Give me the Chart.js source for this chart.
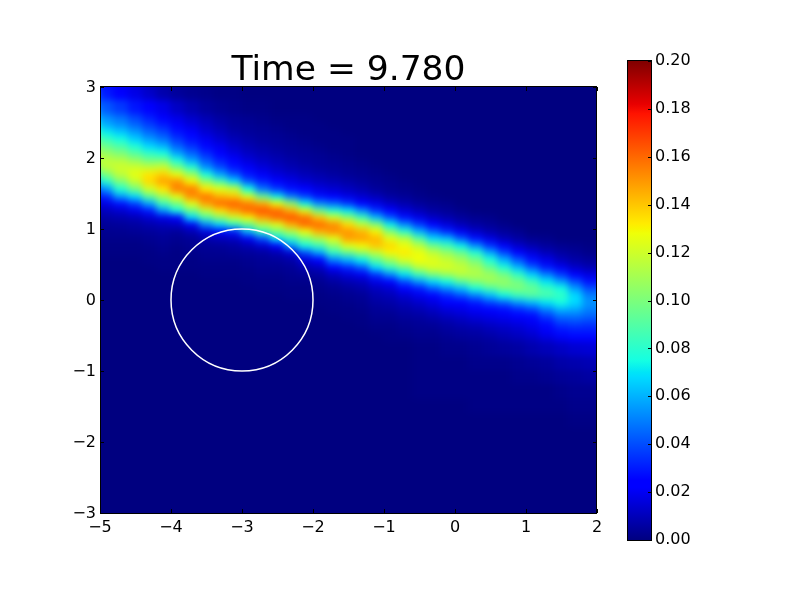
<!DOCTYPE html>
<html>
<head>
<meta charset="utf-8">
<title>Time = 9.780</title>
<script src="https://cdn.jsdelivr.net/npm/chart.js@4/dist/chart.umd.js"></script>
<style>
  html, body { margin: 0; background: #fff; }
  canvas { position: absolute; left: 0; top: 0; }
</style>
</head>
<body>
<canvas id="mapa" width="800" height="600"></canvas>
<canvas id="barra" width="800" height="600"></canvas>
<script>
const titulo = "Time = 9.780";
const xTicks = [-5, -4, -3, -2, -1, 0, 1, 2];
const yTicks = [-3, -2, -1, 0, 1, 2, 3];
const barTicks = [0, 0.02, 0.04, 0.06, 0.08, 0.1, 0.12, 0.14, 0.16, 0.18, 0.2];
const circleCenter = [-3, 0];
const circleRadius = 1;

// centros das colunas e limites das linhas (mais finas na faixa)
const cellX = [-4.9, -4.7, -4.5, -4.3, -4.1, -3.9, -3.7, -3.5, -3.3, -3.1, -2.9, -2.7, -2.5, -2.3, -2.1, -1.9, -1.7, -1.5,
  -1.3, -1.1, -0.9, -0.7, -0.5, -0.3, -0.1, 0.1, 0.3, 0.5, 0.7, 0.9, 1.1, 1.3, 1.5, 1.7, 1.9];
const rowEdges = [3, 2.8, 2.6, 2.5, 2.4, 2.3, 2.2, 2.1, 2, 1.9, 1.8, 1.7, 1.6, 1.5, 1.4, 1.3, 1.2, 1.1, 1, 0.9, 0.8, 0.7, 0.6,
  0.5, 0.4, 0.3, 0.2, 0.1, 0, -0.1, -0.2, -0.3, -0.4, -0.5, -0.6, -0.8, -1, -1.2, -1.4, -1.6, -1.8, -2, -2.2, -2.4, -2.6, -2.8, -3];

// valores, em milesimos, por coluna de cima para baixo; o que falta no fim e zero
const density = [
  [30, 42, 53, 60, 72, 84, 96, 107, 116, 116, 100, 80, 55, 33, 18, 11, 7, 4, 3, 2, 1, 1],
  [25, 36, 47, 54, 65, 76, 89, 101, 114, 120, 116, 101, 79, 55, 28, 14, 8, 5, 3, 2, 1, 1],
  [18, 29, 39, 46, 56, 66, 78, 91, 107, 120, 126, 118, 98, 68, 38, 19, 10, 6, 4, 2, 1, 1],
  [13, 23, 31, 38, 46, 56, 68, 82, 98, 118, 133, 136, 120, 92, 58, 30, 14, 8, 5, 3, 2, 1, 1],
  [8, 18, 25, 31, 39, 48, 61, 76, 98, 120, 138, 148, 133, 110, 85, 55, 18, 10, 6, 4, 3, 2, 1, 1],
  [5, 12, 18, 23, 29, 36, 45, 58, 77, 100, 127, 150, 155, 126, 100, 75, 25, 12, 5, 3, 2, 1, 1, 1],
  [3, 8, 13, 17, 22, 28, 35, 45, 58, 80, 108, 130, 155, 152, 125, 97, 68, 20, 9, 4, 3, 2, 1, 1],
  [2, 5, 9, 12, 15, 20, 26, 33, 42, 54, 76, 106, 132, 158, 148, 118, 88, 52, 16, 8, 4, 3, 2, 1, 1],
  [1, 3, 6, 8, 11, 14, 19, 24, 31, 40, 58, 88, 125, 145, 160, 135, 105, 68, 25, 10, 5, 3, 2, 1, 1],
  [1, 2, 4, 5, 7, 10, 13, 17, 22, 29, 42, 68, 118, 140, 162, 148, 120, 80, 30, 12, 6, 4, 2, 1, 1],
  [0, 1, 3, 4, 5, 7, 9, 12, 16, 21, 29, 42, 75, 125, 155, 160, 130, 95, 60, 20, 9, 5, 3, 2, 1, 1],
  [0, 1, 2, 3, 4, 5, 7, 9, 12, 16, 21, 31, 48, 95, 145, 165, 148, 115, 82, 40, 14, 6, 4, 3, 2, 1, 1],
  [0, 0, 1, 2, 3, 4, 5, 7, 9, 12, 16, 23, 36, 72, 128, 160, 160, 125, 98, 70, 25, 9, 5, 3, 2, 1, 1],
  [0, 0, 1, 1, 2, 3, 4, 5, 7, 9, 13, 18, 28, 50, 105, 145, 165, 145, 112, 82, 55, 15, 7, 4, 3, 2, 1, 1],
  [0, 0, 1, 1, 1, 2, 3, 4, 5, 7, 10, 14, 22, 38, 72, 125, 158, 160, 128, 100, 75, 40, 16, 8, 4, 2, 1, 1],
  [0, 0, 0, 1, 1, 1, 2, 3, 4, 5, 8, 11, 17, 28, 52, 95, 140, 160, 145, 112, 85, 58, 25, 11, 6, 3, 2, 1, 1],
  [0, 0, 0, 0, 1, 1, 1, 2, 3, 4, 6, 9, 14, 24, 45, 78, 122, 152, 152, 125, 105, 82, 50, 24, 11, 6, 3, 2, 1, 1],
  [0, 0, 0, 0, 0, 1, 1, 1, 2, 3, 4, 7, 11, 18, 35, 70, 105, 135, 150, 148, 125, 95, 60, 32, 16, 9, 5, 3, 2, 1, 1],
  [0, 0, 0, 0, 0, 0, 0, 0, 1, 2, 3, 5, 8, 14, 25, 52, 85, 118, 143, 148, 130, 108, 72, 42, 20, 11, 7, 4, 3, 2, 1, 1],
  [0, 0, 0, 0, 0, 0, 0, 0, 0, 1, 2, 3, 5, 10, 18, 34, 62, 102, 130, 143, 140, 118, 92, 68, 35, 18, 11, 8, 6, 4, 3, 2, 1],
  [0, 0, 0, 0, 0, 0, 0, 0, 0, 0, 1, 2, 3, 6, 12, 22, 42, 72, 102, 125, 136, 130, 108, 82, 52, 25, 14, 10, 7, 5, 3, 2, 1, 1],
  [0, 0, 0, 0, 0, 0, 0, 0, 0, 0, 0, 1, 2, 4, 8, 15, 28, 52, 80, 115, 127, 132, 122, 96, 70, 40, 22, 14, 10, 7, 5, 3, 2, 1],
  [0, 0, 0, 0, 0, 0, 0, 0, 0, 0, 0, 0, 1, 2, 5, 10, 18, 36, 60, 90, 115, 127, 128, 115, 85, 55, 30, 19, 13, 9, 6, 4, 3, 2, 1, 1, 1, 1],
  [0, 0, 0, 0, 0, 0, 0, 0, 0, 0, 0, 0, 0, 1, 3, 6, 12, 24, 44, 68, 96, 116, 124, 122, 100, 68, 42, 24, 17, 12, 8, 5, 3, 2, 1, 1, 1, 1],
  [0, 0, 0, 0, 0, 0, 0, 0, 0, 0, 0, 0, 0, 0, 2, 4, 8, 16, 32, 62, 85, 106, 118, 122, 108, 75, 52, 32, 22, 16, 11, 7, 5, 3, 2, 1, 1, 1],
  [0, 0, 0, 0, 0, 0, 0, 0, 0, 0, 0, 0, 0, 0, 0, 2, 5, 10, 20, 42, 72, 95, 110, 118, 115, 92, 62, 40, 25, 18, 13, 9, 6, 4, 2, 1, 1, 1],
  [0, 0, 0, 0, 0, 0, 0, 0, 0, 0, 0, 0, 0, 0, 0, 0, 3, 6, 13, 28, 52, 78, 98, 110, 113, 102, 76, 50, 30, 21, 16, 11, 7, 5, 3, 2, 1, 1, 1],
  [0, 0, 0, 0, 0, 0, 0, 0, 0, 0, 0, 0, 0, 0, 0, 0, 2, 4, 8, 17, 34, 58, 78, 95, 108, 108, 88, 62, 38, 24, 18, 13, 9, 6, 4, 2, 1, 1, 1],
  [0, 0, 0, 0, 0, 0, 0, 0, 0, 0, 0, 0, 0, 0, 0, 0, 0, 2, 5, 10, 21, 38, 60, 78, 98, 106, 98, 74, 44, 27, 20, 15, 11, 8, 5, 2, 1, 1, 1],
  [0, 0, 0, 0, 0, 0, 0, 0, 0, 0, 0, 0, 0, 0, 0, 0, 0, 0, 3, 6, 13, 25, 42, 62, 82, 98, 100, 84, 55, 32, 22, 17, 13, 10, 6, 3, 2, 1, 1],
  [0, 0, 0, 0, 0, 0, 0, 0, 0, 0, 0, 0, 0, 0, 0, 0, 0, 0, 0, 3, 8, 16, 28, 44, 66, 84, 95, 90, 62, 38, 26, 20, 16, 12, 8, 4, 2, 1, 1],
  [0, 0, 0, 0, 0, 0, 0, 0, 0, 0, 0, 0, 0, 0, 0, 0, 0, 0, 0, 2, 5, 10, 18, 30, 50, 70, 84, 88, 70, 50, 36, 27, 21, 16, 10, 5, 3, 1, 1],
  [0, 0, 0, 0, 0, 0, 0, 0, 0, 0, 0, 0, 0, 0, 0, 0, 0, 0, 0, 0, 3, 6, 11, 20, 36, 56, 75, 82, 75, 60, 46, 36, 28, 20, 12, 7, 4, 2, 1],
  [0, 0, 0, 0, 0, 0, 0, 0, 0, 0, 0, 0, 0, 0, 0, 0, 0, 0, 0, 0, 2, 4, 7, 13, 24, 40, 56, 68, 68, 58, 47, 38, 30, 22, 14, 8, 5, 3, 2, 1],
  [0, 0, 0, 0, 0, 0, 0, 0, 0, 0, 0, 0, 0, 0, 0, 0, 0, 0, 0, 0, 1, 2, 5, 9, 17, 28, 40, 50, 54, 50, 44, 36, 30, 23, 15, 9, 6, 3, 2, 1]
];

// mapa de cores jet
const jetR = [[0, 0], [0.35, 0], [0.66, 1], [0.89, 1], [1, 0.5]];
const jetG = [[0, 0], [0.125, 0], [0.375, 1], [0.64, 1], [0.91, 0], [1, 0]];
const jetB = [[0, 0.5], [0.11, 1], [0.34, 1], [0.65, 0], [1, 0]];
const jetStops = [0, 0.11, 0.125, 0.34, 0.35, 0.375, 0.64, 0.65, 0.66, 0.89, 0.91, 1];

const canal = (tab, t) => {
  for (let i = 1; i < tab.length; i++) {
    if (t <= tab[i][0]) {
      const f = (t - tab[i - 1][0]) / (tab[i][0] - tab[i - 1][0]);
      return tab[i - 1][1] + f * (tab[i][1] - tab[i - 1][1]);
    }
  }
  return tab[tab.length - 1][1];
};
const jet = (t) => {
  t = Math.min(1, Math.max(0, t));
  return `rgb(${Math.round(canal(jetR, t) * 255)},${Math.round(canal(jetG, t) * 255)},${Math.round(canal(jetB, t) * 255)})`;
};

const fonte = "'DejaVu Sans'";
const tickFont = { family: fonte, size: 16 };
const menos = (v) => String(v).replace("-", "\u2212");

const cells = [];
cellX.forEach((x, c) => {
  for (let r = 0; r < rowEdges.length - 1; r++) {
    cells.push({
      x,
      y: (rowEdges[r] + rowEdges[r + 1]) / 2,
      v: density[c][r] || 0,
      h: rowEdges[r] - rowEdges[r + 1]
    });
  }
});

// cada celula e um retangulo pequeno, guardado por cor e altura
const swatches = {};
const swatch = (c) => {
  const cor = jet(c.raw.v / 200);
  const sx = c.chart.scales.x;
  const sy = c.chart.scales.y;
  const w = Math.ceil(sx.getPixelForValue(0.2) - sx.getPixelForValue(0)) + 1;
  const h = Math.ceil(sy.getPixelForValue(0) - sy.getPixelForValue(c.raw.h)) + 1;
  const chave = cor + h;
  if (!swatches[chave]) {
    const cv = document.createElement("canvas");
    cv.width = w;
    cv.height = h;
    const t = cv.getContext("2d");
    t.fillStyle = cor;
    t.fillRect(0, 0, w, h);
    swatches[chave] = cv;
  }
  return swatches[chave];
};

// suaviza as celulas ja desenhadas, como o imshow interpolado
const suaviza = {
  id: "suaviza",
  afterDatasetDraw(chart, args) {
    if (args.index !== 1) return;
    const a = chart.chartArea;
    const m = 12;
    const w = a.right - a.left;
    const h = a.bottom - a.top;
    const tmp = document.createElement("canvas");
    tmp.width = w + 2 * m;
    tmp.height = h + 2 * m;
    const t = tmp.getContext("2d");
    t.drawImage(chart.canvas, a.left, a.top, w, h, 0, 0, w + 2 * m, h + 2 * m);
    t.drawImage(chart.canvas, a.left, a.top, w, h, m, m, w, h);
    const ctx = chart.ctx;
    ctx.save();
    ctx.beginPath();
    ctx.rect(a.left, a.top, w, h);
    ctx.clip();
    ctx.filter = "blur(3.5px)";
    ctx.drawImage(tmp, a.left - m, a.top - m);
    ctx.restore();
  }
};

// moldura preta e ticks para dentro
const moldura = {
  id: "moldura",
  afterDraw(chart) {
    const { ctx, chartArea: a, scales } = chart;
    const temX = scales.x.options.display;
    ctx.save();
    ctx.strokeStyle = "#000";
    ctx.lineWidth = 1;
    ctx.beginPath();
    if (temX) {
      scales.x.ticks.forEach((t) => {
        const px = Math.round(scales.x.getPixelForValue(t.value)) + 0.5;
        ctx.moveTo(px, a.bottom);
        ctx.lineTo(px, a.bottom - 4);
        ctx.moveTo(px, a.top);
        ctx.lineTo(px, a.top + 4);
      });
    }
    scales.y.ticks.forEach((t) => {
      const py = Math.round(scales.y.getPixelForValue(t.value)) + 0.5;
      ctx.moveTo(a.right, py);
      ctx.lineTo(a.right - 4, py);
      if (temX) {
        ctx.moveTo(a.left, py);
        ctx.lineTo(a.left + 4, py);
      }
    });
    ctx.stroke();
    ctx.strokeRect(a.left + 0.5, a.top - 0.5, a.right - a.left - 1, a.bottom - a.top + 1);
    ctx.restore();
  }
};

new Chart(document.getElementById("mapa"), {
  type: "scatter",
  data: {
    datasets: [
      {
        label: "circle",
        order: 0,
        data: [{ x: circleCenter[0], y: circleCenter[1] }],
        pointStyle: "circle",
        pointRadius: (c) => {
          const sx = c.chart.scales.x;
          return sx.getPixelForValue(circleRadius) - sx.getPixelForValue(0);
        },
        backgroundColor: "rgba(0,0,0,0)",
        borderColor: "#fff",
        borderWidth: 1.5
      },
      {
        label: "density",
        order: 1,
        data: cells,
        pointStyle: swatch,
        pointRadius: 5,
        borderWidth: 0
      }
    ]
  },
  options: {
    responsive: false,
    animation: false,
    events: [],
    layout: { padding: { left: 0, right: 203, top: 0, bottom: 0 } },
    scales: {
      x: {
        type: "linear",
        min: -5,
        max: 2,
        grid: { display: false, drawTicks: false },
        border: { display: false },
        afterBuildTicks: (s) => { s.ticks = xTicks.map((value) => ({ value })); },
        afterFit: (s) => { s.height = 87; },
        ticks: {
          color: "#000",
          font: tickFont,
          padding: 5,
          maxRotation: 0,
          callback: menos
        }
      },
      y: {
        type: "linear",
        min: -3,
        max: 3,
        grid: { display: false, drawTicks: false },
        border: { display: false },
        afterBuildTicks: (s) => { s.ticks = yTicks.map((value) => ({ value })); },
        afterFit: (s) => { s.width = 100; },
        ticks: {
          color: "#000",
          font: tickFont,
          padding: 4,
          labelOffset: 1,
          callback: menos
        }
      }
    },
    plugins: {
      legend: { display: false },
      tooltip: { enabled: false },
      title: {
        display: true,
        text: titulo,
        fullSize: false,
        color: "#000",
        font: { family: fonte, size: 34.5, weight: "normal", lineHeight: 1 },
        padding: { top: 54, bottom: -1.5 }
      }
    }
  },
  plugins: [suaviza, moldura]
});

new Chart(document.getElementById("barra"), {
  type: "bar",
  data: {
    labels: ["colorbar"],
    datasets: [{
      data: [[barTicks[0], barTicks[barTicks.length - 1]]],
      barPercentage: 1,
      categoryPercentage: 1,
      borderWidth: 0,
      backgroundColor: (c) => {
        const a = c.chart.chartArea;
        if (!a) return "#000";
        const g = c.chart.ctx.createLinearGradient(0, a.bottom, 0, a.top);
        jetStops.forEach((s) => g.addColorStop(s, jet(s)));
        return g;
      }
    }]
  },
  options: {
    responsive: false,
    animation: false,
    events: [],
    layout: { padding: { left: 627, right: 0, top: 61, bottom: 60 } },
    scales: {
      x: { display: false },
      y: {
        position: "right",
        min: 0,
        max: 0.2,
        grid: { display: false, drawTicks: false },
        border: { display: false },
        afterBuildTicks: (s) => { s.ticks = barTicks.map((value) => ({ value })); },
        afterFit: (s) => { s.width = 148; },
        ticks: {
          color: "#000",
          font: tickFont,
          padding: 3,
          callback: (v) => v.toFixed(2)
        }
      }
    },
    plugins: {
      legend: { display: false },
      tooltip: { enabled: false }
    }
  },
  plugins: [moldura]
});
</script>
</body>
</html>
